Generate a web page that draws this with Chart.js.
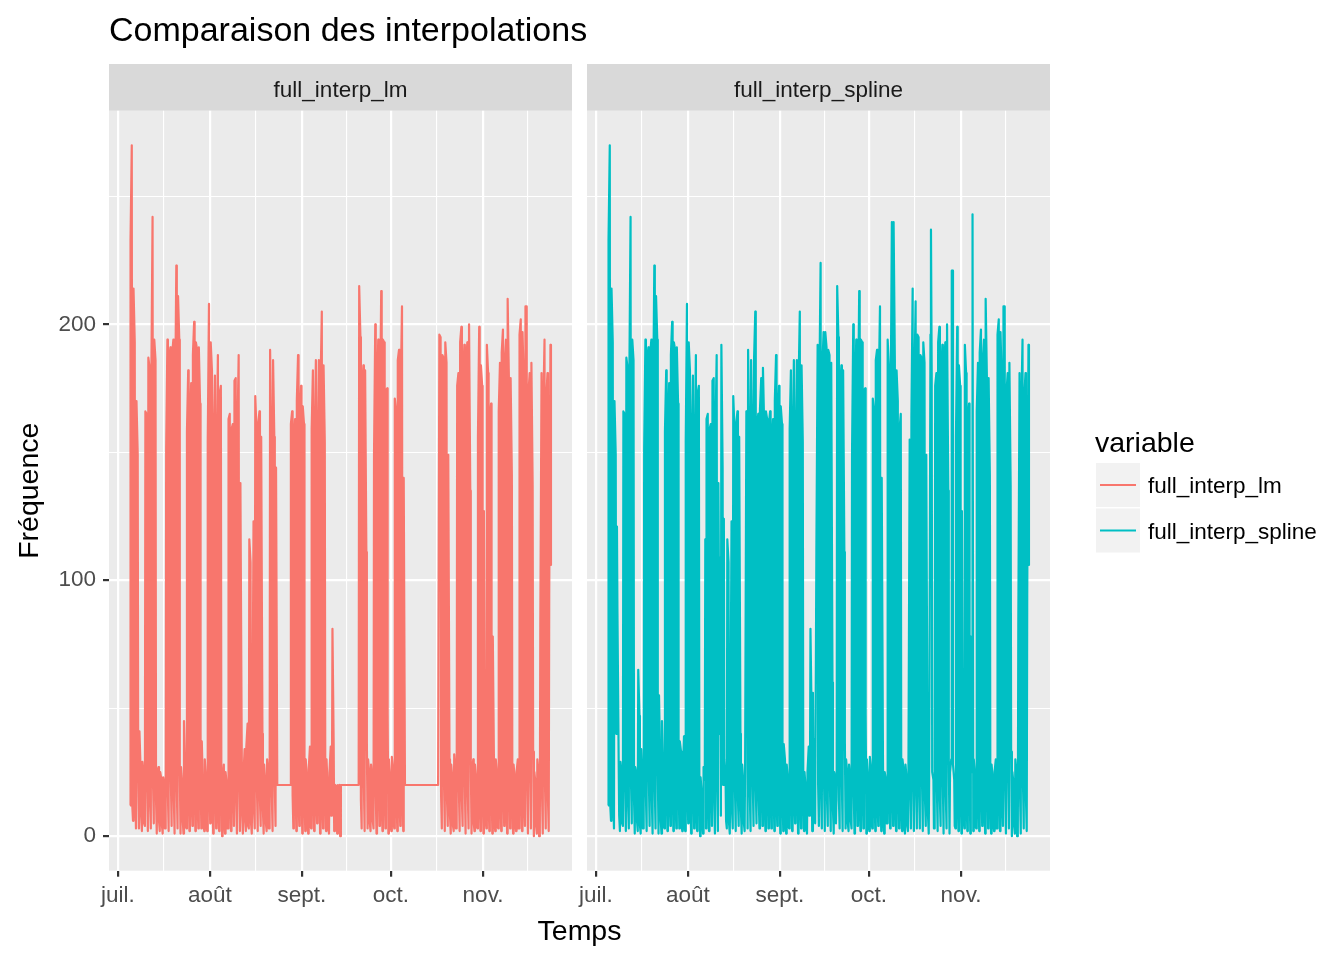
<!DOCTYPE html>
<html lang="fr">
<head>
<meta charset="utf-8">
<title>Comparaison des interpolations</title>
<script src="https://cdn.jsdelivr.net/npm/chart.js@4.4.1/dist/chart.umd.min.js"></script>
<style>
  html, body { margin: 0; padding: 0; background: #ffffff; }
  #wrap { position: relative; width: 1344px; height: 960px; }
  #wrap canvas { position: absolute; left: 0; top: 0; }
</style>
</head>
<body>
<div id="wrap">
  <canvas id="lmChart" width="1344" height="960"></canvas>
  <canvas id="splineChart" width="1344" height="960"></canvas>
</div>
<script>
// Hours of the day of the four readings kept for each day
const sampleHours = [3, 7, 17, 21];
// First day of the data: 5 July 2017 (x axis counts days from 1 July)
const firstDay = 4;

// Month ticks on the x axis
const monthStarts = [0, 31, 62, 92, 123];
const monthLabels = ['juil.', 'août', 'sept.', 'oct.', 'nov.'];
const monthMids = [15.5, 46.5, 77, 107.5, 138];

// Y ticks
const yMajor = [0, 100, 200];
const yMinor = [50, 150, 250];

const seriesNames = ['full_interp_lm', 'full_interp_spline'];

// Daily readings [03h, 07h, 17h, 21h], one week per line
const lmDaily = [
    [12, 233, 270, 12], [6, 214, 193, 16], [3, 170, 149, 22], [3, 41, 25, 8], [2, 29, 24, 5],                            // 5 juil.
    [4, 166, 165, 18], [2, 187, 183, 12], [3, 178, 242, 20], [5, 194, 186, 14], [1, 25, 27, 6], [2, 25, 22, 4], [1, 23, 20, 3],   // 10 juil.
    [3, 151, 194, 16], [2, 186, 191, 22], [4, 188, 194, 14], [1, 166, 223, 18], [3, 211, 194, 25], [1, 27, 20, 6], [1, 45, 25, 4], // 17 juil.
    [3, 158, 182, 20], [2, 159, 177, 15], [4, 188, 201, 22], [2, 193, 190, 13], [3, 191, 169, 25], [3, 37, 16, 5], [2, 30, 22, 4], // 24 juil.
    [2, 154, 208, 18], [5, 193, 182, 14], [1, 154, 180, 20], [3, 147, 188, 12], [2, 173, 176, 24], [0, 22, 28, 5], [1, 25, 20, 3], // 31 juil.
    [3, 163, 165, 16], [2, 159, 161, 20], [4, 178, 179, 13], [1, 157, 188, 18], [2, 138, 40, 8], [1, 23, 34, 6], [2, 35, 44, 4],   // 7 août
    [3, 116, 107, 5], [1, 24, 123, 10], [3, 172, 159, 18], [2, 161, 166, 14], [4, 156, 40, 10], [1, 28, 20, 5], [2, 30, 24, 3],   // 14 août
    [3, 190, 151, 16], [2, 186, 156, 20], [4, 144, 20, 20], [20, 20, 20, 20], [20, 20, 20, 20], [20, 20, 20, 20], [20, 20, 20, 20], // 21 août
    [20, 161, 166, 16], [3, 154, 163, 20], [2, 170, 188, 14], [4, 161, 176, 22], [1, 168, 161, 18], [2, 30, 22, 6], [1, 26, 35, 4], // 28 août
    [3, 159, 182, 20], [2, 154, 186, 14], [5, 151, 186, 22], [1, 177, 205, 13], [3, 184, 154, 20], [2, 30, 18, 5], [1, 25, 35, 8], // 4 sept.
    [20, 81, 35, 2], [16, 20, 19, 1], [20, 19, 20, 0], [20, 20, 20, 20], [20, 20, 20, 20], [20, 20, 20, 20], [20, 20, 20, 20],     // 11 sept.
    [20, 20, 20, 20], [20, 20, 20, 20], [20, 215, 195, 14], [3, 175, 184, 20], [2, 182, 111, 37], [3, 30, 24, 5], [2, 28, 22, 6], // 18 sept.
    [3, 149, 200, 16], [1, 169, 194, 22], [4, 164, 213, 14], [2, 194, 193, 18], [3, 174, 175, 48], [1, 30, 22, 4], [2, 31, 26, 5], // 25 sept.
    [3, 171, 166, 18], [2, 186, 190, 14], [4, 175, 207, 20], [2, 140, 20, 20], [20, 20, 20, 20], [20, 20, 20, 20], [20, 20, 20, 20], // 2 oct.
    [20, 20, 20, 20], [20, 20, 20, 20], [20, 20, 20, 20], [20, 20, 20, 20], [20, 20, 20, 20], [20, 20, 20, 20], [20, 20, 20, 20],   // 9 oct.
    [20, 20, 20, 20], [20, 196, 195, 16], [3, 188, 187, 20], [2, 193, 185, 14], [4, 149, 30, 8], [1, 28, 22, 4], [2, 32, 25, 3],   // 16 oct.
    [3, 176, 181, 18], [2, 193, 199, 14], [4, 179, 192, 20], [1, 184, 193, 16], [3, 200, 135, 30], [1, 25, 30, 5], [2, 28, 22, 4], // 23 oct.
    [3, 156, 199, 16], [2, 184, 176, 20], [1, 127, 25, 6], [3, 192, 181, 14], [2, 163, 169, 22], [1, 78, 25, 5], [2, 30, 24, 4],   // 30 oct.
    [3, 166, 185, 16], [2, 189, 198, 20], [4, 185, 194, 14], [1, 210, 179, 22], [3, 179, 141, 18], [1, 28, 22, 5], [2, 25, 30, 3], // 6 nov.
    [3, 196, 202, 20], [2, 197, 178, 14], [4, 207, 207, 18], [1, 173, 181, 22], [3, 185, 137, 33], [0, 25, 20, 4], [1, 30, 24, 0], // 13 nov.
    [2, 82, 181, 16], [1, 167, 194, 20], [3, 171, 181, 14], [2, 94, 192, 106]                                                     // 20 nov.
];

const splineDaily = [
    [12, 233, 270, 12], [6, 214, 193, 16], [3, 170, 149, 40], [121, 87, 29, 8], [2, 29, 24, 5],                          // 5 juil.
    [4, 166, 165, 18], [2, 187, 183, 12], [3, 178, 242, 20], [5, 194, 186, 14], [1, 27, 24, 6], [2, 65, 47, 4], [1, 34, 20, 3],   // 10 juil.
    [3, 151, 194, 16], [2, 186, 191, 22], [4, 188, 194, 14], [1, 166, 223, 18], [3, 211, 194, 25], [1, 55, 27, 6], [1, 45, 25, 4], // 17 juil.
    [3, 158, 182, 20], [2, 159, 177, 15], [4, 188, 201, 22], [2, 193, 190, 13], [3, 191, 169, 25], [3, 37, 33, 5], [2, 24, 39, 4], // 24 juil.
    [2, 154, 208, 18], [5, 193, 182, 14], [1, 154, 180, 20], [3, 147, 188, 12], [2, 173, 176, 24], [0, 23, 16, 5], [1, 27, 22, 116], // 31 juil.
    [3, 163, 165, 16], [2, 159, 161, 20], [4, 178, 179, 13], [1, 157, 188, 18], [2, 138, 40, 109], [8, 192, 144, 20], [124, 30, 22, 6], // 7 août
    [3, 116, 107, 5], [1, 24, 123, 10], [3, 172, 159, 18], [2, 161, 166, 14], [4, 156, 40, 10], [1, 28, 20, 5], [2, 30, 166, 145],  // 14 août
    [3, 190, 151, 16], [2, 186, 156, 20], [4, 186, 205, 18], [5, 160, 165, 14], [3, 167, 179, 20], [4, 183, 160, 15], [2, 166, 163, 18], // 21 août
    [3, 161, 166, 16], [3, 154, 163, 20], [2, 170, 188, 14], [4, 161, 176, 22], [1, 168, 161, 18], [2, 36, 30, 6], [1, 28, 22, 4], // 28 août
    [3, 159, 182, 20], [2, 154, 186, 14], [5, 151, 186, 22], [1, 177, 205, 13], [3, 184, 154, 20], [2, 25, 18, 5], [1, 25, 35, 8], // 4 sept.
    [20, 81, 44, 2], [56, 27, 38, 5], [5, 112, 192, 20], [4, 177, 224, 15], [3, 183, 197, 20], [2, 197, 191, 14], [4, 190, 188, 18], // 11 sept.
    [2, 185, 60, 10], [1, 25, 22, 5], [20, 215, 195, 14], [3, 175, 184, 20], [2, 182, 111, 37], [3, 30, 24, 5], [2, 28, 22, 6],    // 18 sept.
    [3, 149, 200, 16], [1, 169, 194, 22], [4, 164, 213, 14], [2, 194, 193, 18], [3, 174, 175, 48], [1, 30, 22, 4], [2, 31, 26, 5], // 25 sept.
    [3, 171, 166, 18], [2, 186, 190, 14], [4, 175, 207, 20], [2, 140, 30, 8], [1, 25, 22, 5], [5, 194, 183, 20], [3, 165, 240, 20], // 2 oct.
    [4, 240, 186, 15], [2, 182, 170, 20], [3, 159, 165, 14], [2, 30, 25, 5], [1, 28, 22, 4], [2, 25, 155, 20], [3, 164, 214, 18],  // 9 oct.
    [2, 177, 209, 16], [3, 196, 195, 16], [3, 188, 187, 20], [2, 193, 185, 14], [4, 149, 30, 8], [1, 28, 196, 237], [181, 25, 22, 3], // 16 oct.
    [3, 176, 181, 18], [2, 193, 199, 14], [4, 179, 192, 20], [1, 184, 193, 16], [3, 200, 135, 30], [1, 25, 30, 221], [221, 28, 22, 4], // 23 oct.
    [3, 156, 199, 16], [2, 184, 176, 20], [1, 127, 25, 6], [3, 192, 181, 14], [2, 163, 169, 22], [1, 78, 25, 243], [2, 30, 24, 4],  // 30 oct.
    [3, 166, 185, 16], [2, 189, 198, 20], [4, 185, 194, 14], [1, 210, 179, 22], [3, 179, 141, 18], [1, 28, 22, 5], [2, 25, 30, 3], // 6 nov.
    [3, 196, 202, 20], [2, 197, 178, 14], [4, 207, 207, 18], [1, 173, 181, 22], [3, 185, 137, 33], [0, 25, 20, 4], [1, 30, 24, 0], // 13 nov.
    [2, 82, 181, 16], [1, 167, 194, 20], [3, 171, 181, 14], [2, 94, 192, 106]                                                     // 20 nov.
];

// Colours
const lmColor = '#F8766D';
const splineColor = '#00BFC4';
const FONT = '"Liberation Sans", Arial, sans-serif';

// Turn the daily readings into {x, y} points (x in days since 1 July)
function toPoints(daily) {
    const points = [];
    daily.forEach((day, i) => {
        day.forEach((value, k) => {
            points.push({ x: firstDay + i + sampleHours[k] / 24, y: value });
        });
    });
    return points;
}

const lmPoints = toPoints(lmDaily);
const splinePoints = toPoints(splineDaily);

// Shared scales with the usual 5% expansion on each side
const xFirst = lmPoints[0].x;
const xLast = lmPoints[lmPoints.length - 1].x;
const xPad = (xLast - xFirst) * 0.05;
const allY = lmPoints.concat(splinePoints).map(p => p.y);
const yLow = Math.min(...allY);
const yHigh = Math.max(...allY);
const yPad = (yHigh - yLow) * 0.05;

const xTickValues = monthStarts.concat(monthMids).sort((a, b) => a - b);
const yTickValues = yMajor.concat(yMinor).sort((a, b) => a - b);

// Panel boxes (page pixels)
const panelTop = 110.7;
const panelBottom = 870.7;
const lmBox = { left: 109, right: 572 };
const splineBox = { left: 587, right: 1050 };

// Grey panel background and the facet strip on top of it
const panelPlugin = {
    id: 'panel',
    beforeDraw(chart, args, opts) {
        const { ctx, chartArea: a } = chart;
        ctx.save();
        ctx.fillStyle = '#EBEBEB';
        ctx.fillRect(a.left, a.top, a.right - a.left, a.bottom - a.top);
        ctx.fillStyle = '#D9D9D9';
        ctx.fillRect(a.left, 64, a.right - a.left, a.top - 64);
        ctx.fillStyle = '#1A1A1A';
        ctx.font = '22.5px ' + FONT;
        ctx.textAlign = 'center';
        ctx.textBaseline = 'alphabetic';
        ctx.fillText(opts.label, (a.left + a.right) / 2, 96.5);
        ctx.restore();
    }
};

// Title, axis titles and legend, drawn once on the first chart
const pagePlugin = {
    id: 'page',
    afterDraw(chart) {
        const ctx = chart.ctx;
        ctx.save();
        ctx.fillStyle = '#000000';
        ctx.textBaseline = 'alphabetic';

        ctx.font = '34px ' + FONT;
        ctx.textAlign = 'left';
        ctx.fillText('Comparaison des interpolations', 109, 41);

        ctx.font = '28.5px ' + FONT;
        ctx.textAlign = 'center';
        ctx.fillText('Temps', (lmBox.left + splineBox.right) / 2, 940);

        ctx.save();
        ctx.translate(38, (panelTop + panelBottom) / 2);
        ctx.rotate(-Math.PI / 2);
        ctx.fillText('Fréquence', 0, 0);
        ctx.restore();

        // Legend
        ctx.textAlign = 'left';
        ctx.fillText('variable', 1095, 452);
        const colors = [lmColor, splineColor];
        seriesNames.forEach((name, i) => {
            const top = 463 + i * 45.5;
            ctx.fillStyle = '#F2F2F2';
            ctx.fillRect(1096, top, 44, 44);
            ctx.strokeStyle = colors[i];
            ctx.lineWidth = 2.2;
            ctx.beginPath();
            ctx.moveTo(1100, top + 22);
            ctx.lineTo(1136, top + 22);
            ctx.stroke();
            ctx.fillStyle = '#000000';
            ctx.font = '22.5px ' + FONT;
            ctx.fillText(name, 1148, top + 30);
        });
        ctx.restore();
    }
};

function isMonthStart(value) {
    return monthStarts.includes(value);
}

function isMajorY(value) {
    return yMajor.includes(value);
}

function makeChart(canvasId, points, color, label, box, showYLabels, extraPlugins) {
    return new Chart(document.getElementById(canvasId), {
        type: 'line',
        data: {
            datasets: [{
                label: label,
                data: points,
                borderColor: color,
                borderWidth: 2.2,
                borderJoinStyle: 'round',
                borderCapStyle: 'butt',
                pointRadius: 0,
                tension: 0,
                fill: false
            }]
        },
        options: {
            responsive: false,
            animation: false,
            parsing: false,
            normalized: true,
            events: [],
            layout: { padding: { left: 0, right: 1344 - box.right, top: panelTop, bottom: 0 } },
            plugins: {
                legend: { display: false },
                tooltip: { enabled: false },
                title: { display: false },
                panel: { label: label }
            },
            scales: {
                x: {
                    type: 'linear',
                    min: xFirst - xPad,
                    max: xLast + xPad,
                    afterBuildTicks: s => { s.ticks = xTickValues.map(v => ({ value: v })); },
                    afterFit: s => { s.height = 960 - panelBottom; },
                    border: { display: false },
                    grid: {
                        color: '#FFFFFF',
                        lineWidth: c => (c.tick && isMonthStart(c.tick.value)) ? 2.2 : 1.1,
                        tickColor: c => (c.tick && isMonthStart(c.tick.value)) ? '#333333' : 'rgba(0,0,0,0)',
                        tickWidth: 2.2,
                        tickLength: 6
                    },
                    ticks: {
                        autoSkip: false,
                        maxRotation: 0,
                        padding: 6,
                        color: '#4D4D4D',
                        font: { family: FONT, size: 22.5 },
                        callback: v => {
                            const i = monthStarts.indexOf(v);
                            return i >= 0 ? monthLabels[i] : '';
                        }
                    }
                },
                y: {
                    type: 'linear',
                    min: yLow - yPad,
                    max: yHigh + yPad,
                    afterBuildTicks: s => { s.ticks = yTickValues.map(v => ({ value: v })); },
                    afterFit: s => { s.width = box.left; },
                    border: { display: false },
                    grid: {
                        color: '#FFFFFF',
                        lineWidth: c => (c.tick && isMajorY(c.tick.value)) ? 2.2 : 1.1,
                        tickColor: c => (c.tick && isMajorY(c.tick.value)) ? '#333333' : 'rgba(0,0,0,0)',
                        tickWidth: 2.2,
                        tickLength: 6,
                        drawTicks: showYLabels
                    },
                    ticks: {
                        display: showYLabels,
                        autoSkip: false,
                        padding: 7,
                        color: '#4D4D4D',
                        font: { family: FONT, size: 22.5 },
                        callback: v => isMajorY(v) ? String(v) : ''
                    }
                }
            }
        },
        plugins: [panelPlugin].concat(extraPlugins)
    });
}

makeChart('lmChart', lmPoints, lmColor, seriesNames[0], lmBox, true, [pagePlugin]);
makeChart('splineChart', splinePoints, splineColor, seriesNames[1], splineBox, false, []);
</script>
</body>
</html>
